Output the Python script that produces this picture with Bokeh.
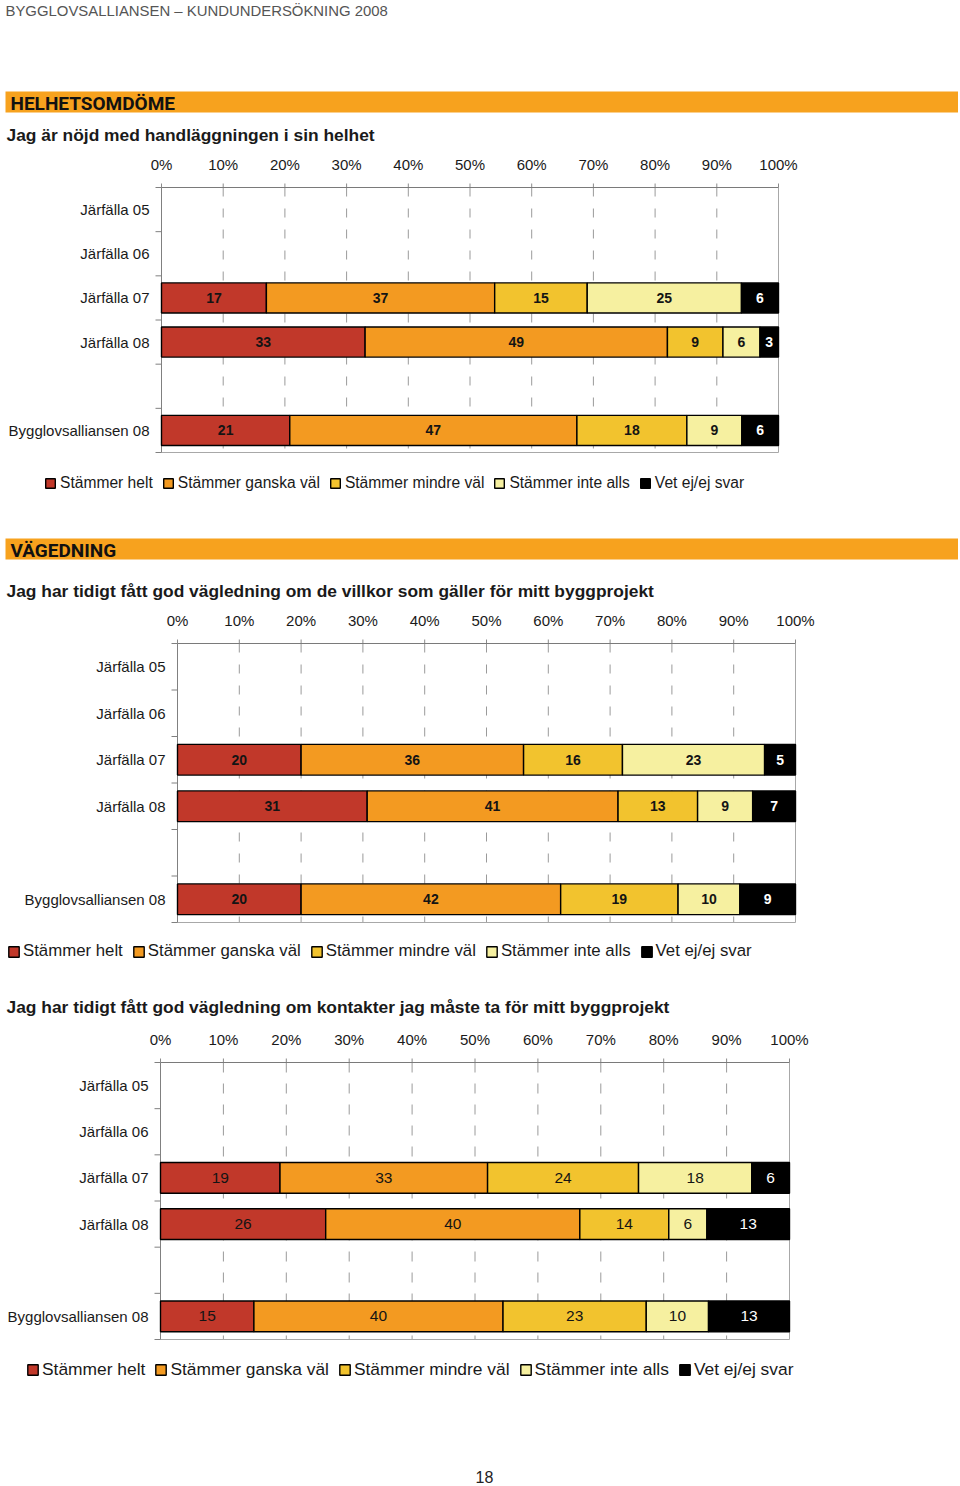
from bokeh.plotting import figure
from bokeh.models import Range1d, ColumnDataSource, Legend, LegendItem, Label
from bokeh.core.properties import value
from bokeh.embed import file_html
from bokeh.resources import INLINE

# ---------------- data ----------------
categories = ["Järfälla 05", "Järfälla 06", "Järfälla 07", "Järfälla 08", "", "Bygglovsalliansen 08"]
series_names = ["Stämmer helt", "Stämmer ganska väl", "Stämmer mindre väl", "Stämmer inte alls", "Vet ej/ej svar"]
series_colors = ["#C1382A", "#F39A21", "#F2C32E", "#F6F0A0", "#000000"]
ticks = [0, 10, 20, 30, 40, 50, 60, 70, 80, 90, 100]
tick_labels = ["0%", "10%", "20%", "30%", "40%", "50%", "60%", "70%", "80%", "90%", "100%"]

# Chart 1: Jag är nöjd med handläggningen i sin helhet
c1_helt = [None, None, 17, 33, None, 21]
c1_ganska = [None, None, 37, 49, None, 47]
c1_mindre = [None, None, 15, 9, None, 18]
c1_inte = [None, None, 25, 6, None, 9]
c1_vet = [None, None, 6, 3, None, 6]

# Chart 2: ... villkor som gäller för mitt byggprojekt
c2_helt = [None, None, 20, 31, None, 20]
c2_ganska = [None, None, 36, 41, None, 42]
c2_mindre = [None, None, 16, 13, None, 19]
c2_inte = [None, None, 23, 9, None, 10]
c2_vet = [None, None, 5, 7, None, 9]

# Chart 3: ... kontakter jag måste ta för mitt byggprojekt
c3_helt = [None, None, 19, 26, None, 15]
c3_ganska = [None, None, 33, 40, None, 40]
c3_mindre = [None, None, 24, 14, None, 23]
c3_inte = [None, None, 18, 6, None, 10]
c3_vet = [None, None, 6, 13, None, 13]

header_texts = ["HELHETSOMDÖME", "VÄGEDNING"]
titles = [
    "Jag är nöjd med handläggningen i sin helhet",
    "Jag har tidigt fått god vägledning om de villkor som gäller för mitt byggprojekt",
    "Jag har tidigt fått god vägledning om kontakter jag måste ta för mitt byggprojekt",
]
page_header = "BYGGLOVSALLIANSEN – KUNDUNDERSÖKNING 2008"
page_number = "18"

# ---------------- layout ----------------
FONT = "Liberation Sans"
X0, X1 = 0, 958        # page-coordinate span of the figure (x)
Y0, Y1 = 0, 1484       # page-coordinate span of the figure (y)

p = figure(width=X1 - X0, height=Y1 - Y0,
           x_range=Range1d(X0, X1), y_range=Range1d(Y1, Y0),
           output_backend="svg", toolbar_location=None,
           x_axis_location=None, y_axis_location=None,
           min_border=0, outline_line_color=None)
p.grid.visible = False

# top header text
p.add_layout(Label(x=5, y=10, text=page_header, text_font=FONT, text_font_size="14.9px",
                   text_color="#555555", text_baseline="middle"))

# orange section bands
for txt, top, bot in [(header_texts[0], 91, 112), (header_texts[1], 538, 559)]:
    p.quad(left=5, right=960, top=top, bottom=bot, fill_color="#F7A21E", line_color=None)
    p.add_layout(Label(x=10, y=(top + bot) / 2 + 1, text=txt,
                       text_font="Roboto", text_font_style="bold", text_font_size="19px",
                       text_color="#111111", text_baseline="middle"))

for txt, y in zip(titles, [134, 590, 1006]):
    p.add_layout(Label(x=6, y=y, text=txt, text_font=FONT, text_font_style="bold",
                       text_font_size="17.4px", text_color="#1a1a1a", text_baseline="middle"))

p.add_layout(Label(x=484, y=1476, text=page_number, text_font=FONT, text_font_size="16px",
                   text_color="#222222", text_baseline="middle", text_align="center"))


def build_chart(name, series, L, R, T, B, bar_h, lab_size, lab_bold, dash,
                leg_x, leg_y, leg_size, gbox, standoff):
    h = (B - T) / 6.0
    p.extra_x_ranges[name] = Range1d(start=(X0 - L) / (R - L) * 100, end=(X1 - L) / (R - L) * 100)
    p.extra_y_ranges[name] = Range1d(start=(Y1 - T) / h, end=(Y0 - T) / h)
    kw = dict(x_range_name=name, y_range_name=name)
    px = 100.0 / (R - L)  # one pixel in percent units

    # grid lines
    inner = ticks[1:-1]
    p.segment(x0=inner, x1=inner, y0=[0] * len(inner), y1=[6] * len(inner),
              line_color="#9a9a9a", line_width=1, line_dash=dash, **kw)
    # top tick marks
    p.segment(x0=ticks, x1=ticks, y0=[-4 / h] * len(ticks), y1=[0] * len(ticks),
              line_color="#8a8a8a", line_width=1, **kw)
    # plot area frame (bottom, right)
    p.segment(x0=[0, 100], x1=[100, 100], y0=[6, 0], y1=[6, 6],
              line_color="#a8a8a8", line_width=1, **kw)
    # top line
    p.segment(x0=[0], x1=[100], y0=[0], y1=[0], line_color="#7a7a7a", line_width=1, **kw)
    # left axis + ticks
    slots = list(range(7))
    p.segment(x0=[0], x1=[0], y0=[0], y1=[6], line_color="#808080", line_width=1, **kw)
    p.segment(x0=[-6 * px] * 7, x1=[0] * 7, y0=slots, y1=slots,
              line_color="#808080", line_width=1, **kw)

    # stacked bars
    rows = [i for i in range(len(categories)) if series[0][i] is not None]
    totals = {i: sum(s[i] for s in series) for i in rows}
    cum = {i: 0.0 for i in rows}
    renderers = []
    lx, ly, lt, lc = [], [], [], []
    for j, s in enumerate(series):
        left = [cum[i] / totals[i] * 100 for i in rows]
        right = [(cum[i] + s[i]) / totals[i] * 100 for i in rows]
        for i in rows:
            cum[i] += s[i]
        src = ColumnDataSource(dict(y=[i + 0.5 for i in rows], left=left, right=right))
        r = p.hbar(y="y", left="left", right="right", height=bar_h, source=src,
                   fill_color=series_colors[j], line_color="#000000", line_width=1.4, **kw)
        renderers.append(r)
        for k, i in enumerate(rows):
            lx.append((left[k] + right[k]) / 2)
            ly.append(i + 0.5)
            lt.append(str(s[i]))
            lc.append("#ffffff" if j == 4 else "#141414")
    p.text(x=lx, y=ly, text=lt, text_color=lc, text_align="center", text_baseline="middle",
           text_font=value(FONT), text_font_size=lab_size,
           text_font_style="bold" if lab_bold else "normal", **kw)

    # category labels
    p.text(x=[0] * len(categories), y=[i + 0.5 for i in range(len(categories))], text=categories,
           x_offset=-12, text_align="right", text_baseline="middle",
           text_font=value(FONT), text_font_size="15px", text_color="#1a1a1a", **kw)
    # percent tick labels
    p.text(x=ticks, y=[-23 / h] * len(ticks), text=tick_labels,
           text_align="center", text_baseline="middle",
           text_font=value(FONT), text_font_size="15px", text_color="#1a1a1a", **kw)

    # legend glyphs for bars are drawn at 80% of the glyph box
    inset = int(round(gbox * 0.1))
    legend = Legend(items=[LegendItem(label=n, renderers=[r]) for n, r in zip(series_names, renderers)],
                    orientation="horizontal",
                    location=(int(leg_x - X0 - inset), int((Y1 - leg_y) - 9)),
                    padding=0, margin=0, spacing=9, label_standoff=int(standoff - inset),
                    glyph_width=int(gbox), glyph_height=int(gbox), label_height=16,
                    label_text_font=FONT, label_text_font_size=leg_size,
                    label_text_color="#1a1a1a",
                    border_line_color=None, background_fill_alpha=0)
    p.add_layout(legend)


build_chart("c1", [c1_helt, c1_ganska, c1_mindre, c1_inte, c1_vet],
            L=161, R=778, T=187, B=452, bar_h=0.68, lab_size="14px", lab_bold=True,
            dash="9 12", leg_x=45, leg_y=483, leg_size="15.6px", gbox=12, standoff=5)
build_chart("c2", [c2_helt, c2_ganska, c2_mindre, c2_inte, c2_vet],
            L=177, R=795, T=643, B=922, bar_h=0.66, lab_size="14px", lab_bold=True,
            dash="9 12", leg_x=8, leg_y=952, leg_size="16.8px", gbox=13, standoff=4)
build_chart("c3", [c3_helt, c3_ganska, c3_mindre, c3_inte, c3_vet],
            L=160, R=789, T=1062, B=1339, bar_h=0.665, lab_size="15.5px", lab_bold=False,
            dash="10 11", leg_x=27, leg_y=1371, leg_size="17.4px", gbox=13, standoff=4)

open("out.html", "w").write(file_html(p, INLINE))
